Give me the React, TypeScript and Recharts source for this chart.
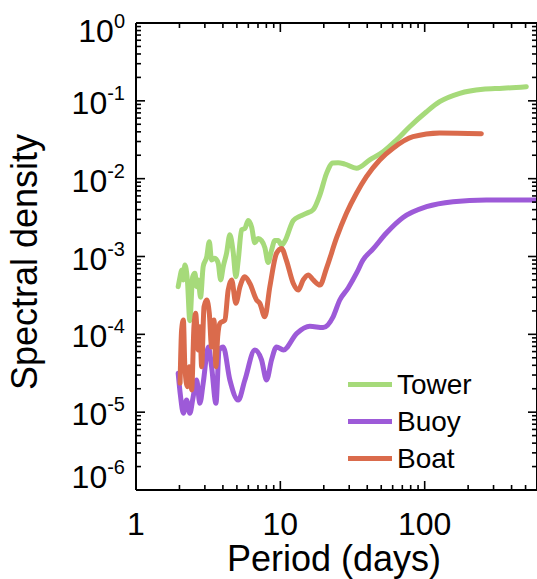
import React from 'react';
import { LineChart, Line, XAxis, YAxis, Legend } from 'recharts';

// ---- Data ----
const towerPeriod = [1.96, 2.02, 2.07, 2.13, 2.18, 2.27, 2.36, 2.47, 2.56, 2.63, 2.70, 2.80, 2.92, 3.09, 3.22, 3.34, 3.52, 3.71, 3.86, 4.02, 4.24, 4.47, 4.71, 4.92, 5.11, 5.39, 5.68, 5.99, 6.32, 6.66, 7.02, 7.41, 7.81, 8.23, 8.69, 9.16, 9.66, 10.2, 10.7, 12.3, 13.7, 15.2, 16.9, 18.8, 20.9, 23.1, 25.1, 28.0, 33.7, 41.6, 51.5, 63.7, 78.7, 103, 127, 175, 253, 348, 506];
const towerDensity = [4.1e-4, 5.5e-4, 6.7e-4, 5.0e-4, 7.8e-4, 5.0e-4, 1.5e-4, 5.5e-4, 6.1e-4, 4.1e-4, 5.0e-4, 3.0e-4, 7.4e-4, 9.9e-4, 1.55e-3, 9.0e-4, 9.5e-4, 8.2e-4, 5.0e-4, 7.4e-4, 1.1e-3, 1.9e-3, 1.15e-3, 5.5e-4, 9.0e-4, 2.2e-3, 2.3e-3, 2.9e-3, 2.4e-3, 1.5e-3, 1.7e-3, 1.6e-3, 1.3e-3, 8.4e-4, 1.2e-3, 1.6e-3, 1.6e-3, 1.4e-3, 1.55e-3, 2.9e-3, 3.3e-3, 3.6e-3, 4.0e-3, 6.2e-3, 1.17e-2, 1.59e-2, 1.6e-2, 1.54e-2, 1.36e-2, 1.74e-2, 2.22e-2, 3.14e-2, 4.65e-2, 7.25e-2, 9.75e-2, 0.125, 0.141, 0.145, 0.152];

const buoyPeriod = [1.96, 2.03, 2.13, 2.24, 2.36, 2.49, 2.63, 2.77, 2.92, 3.17, 3.34, 3.58, 3.77, 4.02, 4.47, 5.11, 5.68, 6.66, 7.41, 8.03, 8.69, 9.41, 10.5, 13.0, 16.0, 19.8, 23.2, 25.8, 29.5, 33.7, 37.4, 43.9, 54.3, 70.8, 103, 157, 267, 600];
const buoyDensity = [3.16e-5, 1.66e-5, 9.7e-6, 1.43e-5, 9.7e-6, 1.58e-5, 2.59e-5, 1.3e-5, 2.35e-5, 6.9e-5, 3.84e-5, 1.3e-5, 6.3e-5, 6.9e-5, 2.59e-5, 1.43e-5, 2.59e-5, 6.3e-5, 4.7e-5, 2.59e-5, 4.7e-5, 6.9e-5, 6.3e-5, 1.03e-4, 1.27e-4, 1.22e-4, 1.68e-4, 2.76e-4, 3.94e-4, 6.1e-4, 9.0e-4, 1.25e-3, 2.0e-3, 3.17e-3, 4.36e-3, 5.06e-3, 5.32e-3, 5.32e-3];

const boatPeriod = [2.02, 2.07, 2.13, 2.18, 2.27, 2.34, 2.43, 2.52, 2.59, 2.70, 2.77, 2.85, 2.96, 3.09, 3.22, 3.34, 3.47, 3.58, 3.68, 3.82, 4.13, 4.35, 4.60, 4.92, 5.25, 5.68, 6.15, 6.85, 7.21, 7.81, 8.46, 9.41, 10.2, 11.0, 12.3, 13.3, 14.4, 15.6, 16.9, 18.8, 20.9, 24.5, 28.7, 33.7, 39.5, 48.8, 60.4, 83.0, 127, 247];
const boatDensity = [2.35e-5, 1.14e-4, 1.53e-4, 3.84e-5, 2.12e-5, 3.84e-5, 1.93e-5, 1.25e-4, 1.86e-4, 6.3e-5, 1.25e-4, 3.84e-5, 2.26e-4, 2.76e-4, 1.86e-4, 6.9e-5, 1.53e-4, 3.84e-5, 9.3e-5, 1.39e-4, 1.53e-4, 3.7e-4, 5.0e-4, 2.5e-4, 4.1e-4, 5.5e-4, 4.5e-4, 2.76e-4, 2.5e-4, 1.68e-4, 4.1e-4, 1.1e-3, 1.27e-3, 9.0e-4, 4.5e-4, 3.7e-4, 5.0e-4, 5.8e-4, 5.0e-4, 4.3e-4, 7.1e-4, 1.73e-3, 3.6e-3, 6.5e-3, 1.06e-2, 1.74e-2, 2.46e-2, 3.46e-2, 3.86e-2, 3.78e-2];

const xLabelTicks = [1, 10, 100];
const xTicks = [1, 2, 3, 4, 5, 6, 7, 8, 9, 10, 20, 30, 40, 50, 60, 70, 80, 90, 100, 200, 300, 400, 500];
const yLabelTicks = [1e-6, 1e-5, 1e-4, 1e-3, 1e-2, 1e-1, 1];
const yTicks = [
  1e-6, 2e-6, 3e-6, 4e-6, 5e-6, 6e-6, 7e-6, 8e-6, 9e-6,
  1e-5, 2e-5, 3e-5, 4e-5, 5e-5, 6e-5, 7e-5, 8e-5, 9e-5,
  1e-4, 2e-4, 3e-4, 4e-4, 5e-4, 6e-4, 7e-4, 8e-4, 9e-4,
  1e-3, 2e-3, 3e-3, 4e-3, 5e-3, 6e-3, 7e-3, 8e-3, 9e-3,
  1e-2, 2e-2, 3e-2, 4e-2, 5e-2, 6e-2, 7e-2, 8e-2, 9e-2,
  1e-1, 2e-1, 3e-1, 4e-1, 5e-1, 6e-1, 7e-1, 8e-1, 9e-1,
  1,
];
const xDomain = [1, 600];
const yDomain = [1e-6, 1];

const seriesNames = ['Tower', 'Buoy', 'Boat'];
const seriesColors = ['#a6da7a', '#9d5ad8', '#da6b4c'];

const towerData = towerPeriod.map((p, i) => ({ period: p, value: towerDensity[i] }));
const buoyData = buoyPeriod.map((p, i) => ({ period: p, value: buoyDensity[i] }));
const boatData = boatPeriod.map((p, i) => ({ period: p, value: boatDensity[i] }));

// frame tick marks, positioned through the chart's own scales
const bottomMarks = xTicks.map((p) => ({ period: p, value: yDomain[0] }));
const topMarks = xTicks.map((p) => ({ period: p, value: yDomain[1] }));
const leftMarks = yTicks.map((v) => ({ period: xDomain[0], value: v }));
const rightMarks = yTicks.map((v) => ({ period: xDomain[1], value: v }));

const FONT = '"Liberation Sans", Arial, Helvetica, sans-serif';
const MAJOR = 9;
const MINOR = 5;
const TW = 1.6;
const AXIS_LINE = { stroke: '#000', strokeWidth: 2 };

function isMajor(v: number) {
  const l = Math.log10(v);
  return Math.abs(l - Math.round(l)) < 1e-6;
}

// ---- tick labels (outside the frame) ----
const BottomLabel = (props: any) => {
  const { x, y, payload } = props;
  return (
    <text x={x} y={y + 45} textAnchor="middle" fontSize={32} fontFamily={FONT} fill="#000">
      {String(payload.value)}
    </text>
  );
};

const LeftLabel = (props: any) => {
  const { x, y, payload } = props;
  const exp = Math.round(Math.log10(payload.value));
  const shift = exp === 0 ? 6 : exp === -6 ? -15 : 0;
  return (
    <text x={x - 11} y={y + 13 + shift} textAnchor="end" fontSize={32} fontFamily={FONT} fill="#000">
      10
      <tspan dy={-14} fontSize={20}>{`${exp}`}</tspan>
    </text>
  );
};

// ---- inward tick marks drawn as point shapes ----
const FrameMark = (props: any) => {
  const { cx, cy, payload, side } = props;
  if (cx == null || cy == null || !payload) return <g />;
  if (side === 'bottom' || side === 'top') {
    const len = isMajor(payload.period) ? MAJOR : MINOR;
    const y0 = side === 'bottom' ? cy - len : cy;
    return <rect x={cx - TW / 2} y={y0} width={TW} height={len} fill="#000" />;
  }
  const len = isMajor(payload.value) ? MAJOR : MINOR;
  const x0 = side === 'left' ? cx : cx - len;
  return <rect x={x0} y={cy - TW / 2} width={len} height={TW} fill="#000" />;
};

const renderLegend = () => (
  <div style={{ fontFamily: FONT, fontSize: 28, color: '#000' }}>
    {seriesNames.map((name, i) => (
      <div key={name} style={{ display: 'flex', alignItems: 'center', height: 37 }}>
        <div style={{ width: 44, height: 5, background: seriesColors[i], marginRight: 5 }} />
        <span style={{ lineHeight: '28px', whiteSpace: 'nowrap' }}>{name}</span>
      </div>
    ))}
  </div>
);

const YLabel = (props: any) => {
  const vb = props.viewBox || { x: 0, y: 23, width: 136, height: 467 };
  const cx = 37;
  const cy = vb.y + vb.height / 2 + 5.5;
  return (
    <text x={cx} y={cy} transform={`rotate(-90, ${cx}, ${cy})`} textAnchor="middle" fontSize={36} fontFamily={FONT} fill="#000">
      Spectral density
    </text>
  );
};

const XLabel = (props: any) => {
  const vb = props.viewBox || { x: 136, y: 490, width: 401, height: 89 };
  const cx = vb.x + vb.width / 2 - 2.5;
  const cy = vb.y + 81;
  return (
    <text x={cx} y={cy} textAnchor="middle" fontSize={36} fontFamily={FONT} fill="#000">
      Period (days)
    </text>
  );
};

const xCommon = {
  dataKey: 'period',
  type: 'number' as const,
  scale: 'log' as const,
  domain: xDomain,
  interval: 0 as const,
  tickSize: 0,
  tickMargin: 0,
  tickLine: false,
};
const yCommon = {
  dataKey: 'value',
  type: 'number' as const,
  scale: 'log' as const,
  domain: yDomain,
  interval: 0 as const,
  tickSize: 0,
  tickMargin: 0,
  tickLine: false,
};

export default function App() {
  const datasets = [towerData, buoyData, boatData];
  const marks: [string, any[]][] = [
    ['bottom', bottomMarks],
    ['top', topMarks],
    ['left', leftMarks],
    ['right', rightMarks],
  ];
  return (
    <div style={{ position: 'fixed', left: 0, top: 0, width: 537, height: 579, overflow: 'hidden', background: '#fff' }}>
      <LineChart width={537} height={579} data={towerData} margin={{ top: 23, right: 0, left: 0, bottom: 0 }}>
        {/* labelled axes (outside) */}
        <XAxis {...xCommon} xAxisId="b" orientation="bottom" height={89} ticks={xLabelTicks}
          tick={<BottomLabel />} axisLine={AXIS_LINE} label={XLabel} />
        <YAxis {...yCommon} yAxisId="l" orientation="left" width={136} ticks={yLabelTicks}
          tick={<LeftLabel />} axisLine={AXIS_LINE} label={YLabel} />
        {/* mirrored axes that close the frame on top and right */}
        <XAxis {...xCommon} xAxisId="tm" orientation="top" mirror height={30} ticks={xLabelTicks}
          tick={false} axisLine={AXIS_LINE} />
        <YAxis {...yCommon} yAxisId="rm" orientation="right" mirror width={60} ticks={yLabelTicks}
          tick={false} axisLine={AXIS_LINE} />

        {marks.map(([side, d]) => (
          <Line
            key={`marks-${side}`}
            xAxisId="b"
            yAxisId="l"
            data={d}
            dataKey="value"
            stroke="none"
            fill="none"
            legendType="none"
            dot={<FrameMark side={side} />}
            activeDot={false}
            isAnimationActive={false}
          />
        ))}

        {datasets.map((d, i) => (
          <Line
            key={seriesNames[i]}
            xAxisId="b"
            yAxisId="l"
            data={d}
            dataKey="value"
            name={seriesNames[i]}
            type="monotone"
            stroke={seriesColors[i]}
            strokeWidth={5}
            dot={false}
            activeDot={false}
            isAnimationActive={false}
            strokeLinejoin="round"
            strokeLinecap="round"
          />
        ))}
        <Legend
          layout="horizontal"
          verticalAlign="middle"
          align="center"
          content={renderLegend}
          wrapperStyle={{ left: 348, top: 366, bottom: 'auto', right: 'auto', width: 'auto', height: 'auto' }}
        />
      </LineChart>
    </div>
  );
}
